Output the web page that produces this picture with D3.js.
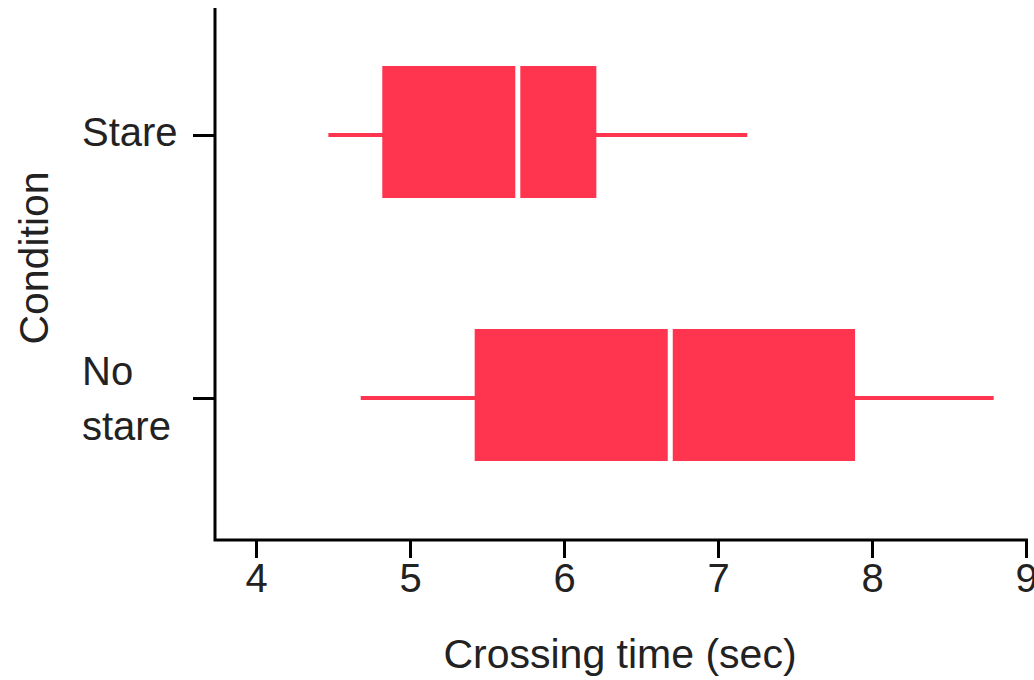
<!DOCTYPE html>
<html>
<head>
<meta charset="utf-8">
<script src="https://cdn.jsdelivr.net/npm/d3@7"></script>
<style>
  body { margin: 0; background: #fff; }
  text { font-family: "Liberation Sans", Arial, sans-serif; fill: #222; }
</style>
</head>
<body>
<div id="chart"></div>
<script>
const conditions = ["Stare", "No stare"];
const whiskerLow = [4.47, 4.68];
const q1 = [4.82, 5.42];
const medians = [5.70, 6.69];
const q3 = [6.21, 7.89];
const whiskerHigh = [7.19, 8.79];
const xTicks = [4, 5, 6, 7, 8, 9];

const width = 1034, height = 680;
const plotLeft = 215, plotTop = 8, plotBottom = 540, plotRight = 1028;
const red = "#ff344e";

const svg = d3.select("#chart").append("svg")
    .attr("width", width)
    .attr("height", height);

const x = d3.scaleLinear()
    .domain([4, 9])
    .range([256, 1026]);

const y = d3.scalePoint()
    .domain(conditions)
    .range([135, 398]);

const boxH = 132, boxShift = 3;

const rows = conditions.map((c, i) => ({
    name: c, lo: whiskerLow[i], q1: q1[i], med: medians[i], q3: q3[i], hi: whiskerHigh[i]
}));

const g = svg.append("g");

// whiskers
g.selectAll(".whisker")
    .data(rows)
    .enter().append("line")
    .attr("x1", d => x(d.lo))
    .attr("x2", d => x(d.hi))
    .attr("y1", d => y(d.name))
    .attr("y2", d => y(d.name))
    .attr("stroke", red)
    .attr("stroke-width", 4);

// boxes
g.selectAll(".box")
    .data(rows)
    .enter().append("rect")
    .attr("x", d => x(d.q1))
    .attr("y", d => y(d.name) - boxShift - boxH / 2)
    .attr("width", d => x(d.q3) - x(d.q1))
    .attr("height", boxH)
    .attr("fill", red);

// medians
g.selectAll(".median")
    .data(rows)
    .enter().append("line")
    .attr("x1", d => x(d.med))
    .attr("x2", d => x(d.med))
    .attr("y1", d => y(d.name) - boxShift - boxH / 2)
    .attr("y2", d => y(d.name) - boxShift + boxH / 2)
    .attr("stroke", "#fff")
    .attr("stroke-width", 5);

// axis lines
svg.append("path")
    .attr("d", `M${plotLeft},${plotTop}V${plotBottom}H${plotRight}`)
    .attr("fill", "none")
    .attr("stroke", "#000")
    .attr("stroke-width", 3);

// x axis
const xAxis = svg.append("g")
    .attr("transform", `translate(0,${plotBottom})`)
    .call(d3.axisBottom(x).tickValues(xTicks).tickSize(18).tickPadding(6).tickFormat(d3.format("d")));
xAxis.select(".domain").remove();
xAxis.selectAll(".tick line").attr("stroke", "#000").attr("stroke-width", 3);
xAxis.selectAll(".tick text")
    .attr("font-size", 40)
    .attr("font-family", "Liberation Sans, Arial, sans-serif")
    .attr("fill", "#222");

// y axis ticks
const yAxis = svg.append("g")
    .attr("transform", `translate(${plotLeft},0)`)
    .call(d3.axisLeft(y).tickSize(22).tickFormat(""));
yAxis.select(".domain").remove();
yAxis.selectAll(".tick line").attr("stroke", "#000").attr("stroke-width", 3);

// y tick labels (left aligned, wrapped)
const yLabels = { "Stare": ["Stare"], "No stare": ["No", "stare"] };
svg.selectAll(".ylab")
    .data(conditions)
    .enter().append("text")
    .attr("x", 82)
    .attr("y", d => y(d))
    .attr("font-size", 40)
    .each(function(d) {
        const lines = yLabels[d];
        const t = d3.select(this);
        lines.forEach((l, i) => {
            t.append("tspan")
                .attr("x", 82)
                .attr("dy", i === 0 ? (lines.length === 1 ? 11 : -13) : 55)
                .text(l);
        });
    });

// axis titles
svg.append("text")
    .attr("x", 620)
    .attr("y", 668)
    .attr("text-anchor", "middle")
    .attr("font-size", 41)
    .text("Crossing time (sec)");

svg.append("text")
    .attr("transform", "translate(48,258) rotate(-90)")
    .attr("text-anchor", "middle")
    .attr("font-size", 41)
    .text("Condition");
</script>
</body>
</html>
